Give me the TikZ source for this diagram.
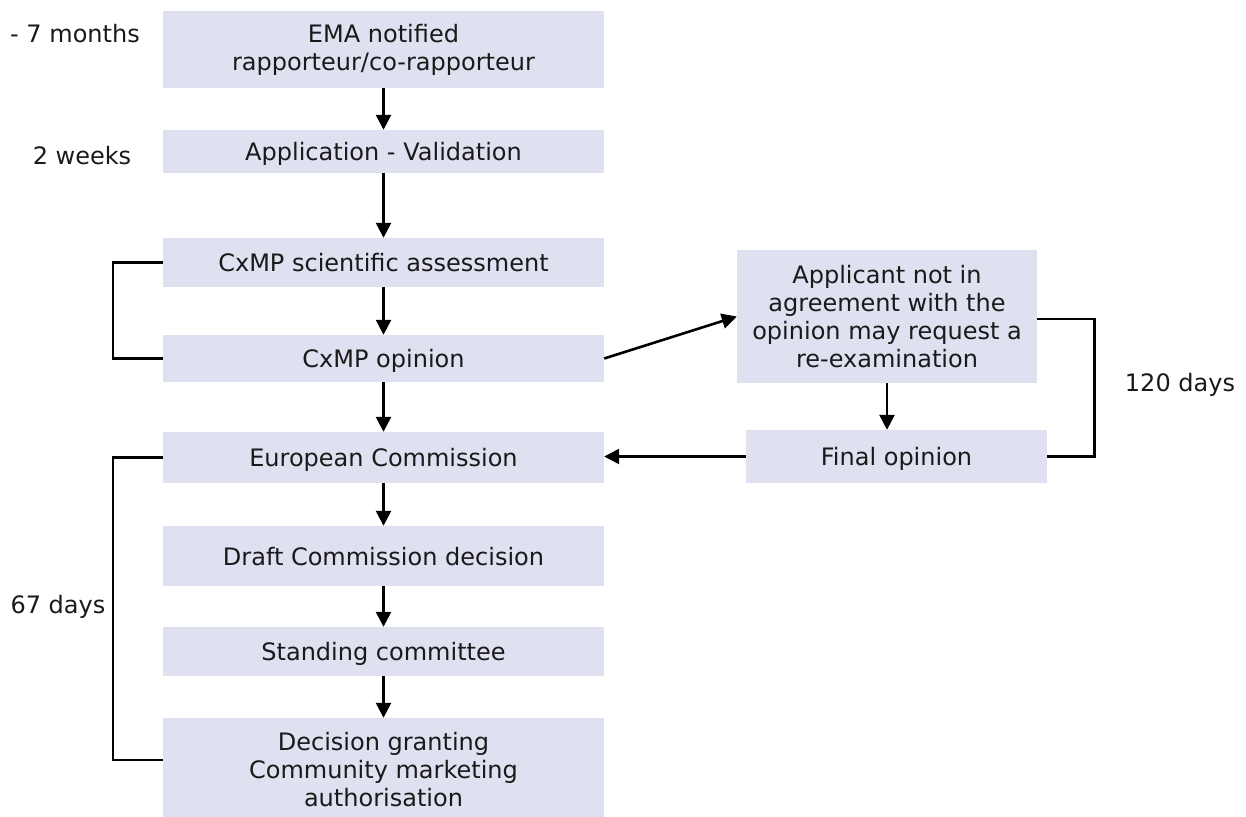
\documentclass[tikz,border=0pt]{standalone}
\usepackage{fontspec}
\setmainfont{DejaVu Sans}
\usetikzlibrary{arrows.meta}
\definecolor{boxc}{RGB}{223,224,240}
\definecolor{txt}{RGB}{26,26,26}
\tikzset{
  stagebox/.style={fill=boxc, draw=none, inner sep=0pt, align=center, text=txt,
    font=\fontsize{24}{28}\selectfont},
  mainbox/.style={stagebox, minimum width=441pt},
  oneline/.style={text depth=0pt},
  lbl/.style={inner sep=0pt, text=txt, font=\fontsize{24}{28}\selectfont},
  flow/.style={line width=2.6pt, -{Triangle[length=15pt,width=15pt]}},
  brack/.style={line width=2.6pt}
}
\begin{document}
\begin{tikzpicture}[x=1pt,y=-1pt]
\useasboundingbox[fill=white] (0,0) rectangle (1246,816);
\node[mainbox, minimum height=77pt] (b1) at (383.5,49.5) {EMA notified\\rapporteur/co-rapporteur};
\node[mainbox, oneline, minimum height=43pt] (b2) at (383.5,151.5) {Application - Validation};
\node[mainbox, oneline, minimum height=49pt] (b3) at (383.5,262.5) {CxMP scientific assessment};
\node[mainbox, oneline, minimum height=47pt] (b4) at (383.5,358.5) {CxMP opinion};
\node[mainbox, oneline, minimum height=51pt] (b5) at (383.5,457.5) {European Commission};
\node[mainbox, oneline, minimum height=60pt] (b6) at (383.5,556) {Draft Commission decision};
\node[mainbox, oneline, minimum height=49pt] (b7) at (383.5,651.5) {Standing committee};
\node[mainbox, minimum height=104pt] (b8) at (383.5,770) {Decision granting\\Community marketing\\authorisation};
\node[stagebox, minimum width=300pt, minimum height=133pt] (app) at (887,316.5) {Applicant not in\\agreement with the\\opinion may request a\\re-examination};
\node[stagebox, oneline, minimum width=301pt, minimum height=53pt] (fin) at (896.5,456.5) {Final opinion};

\node[lbl] (l1) at (75,34) {- 7 months};
\node[lbl] (l2) at (82,156) {2 weeks};
\node[lbl] (l3) at (58,607) {67 days};
\node[lbl] (l4) at (1180,385) {120 days};

\draw[flow] (b1.south) -- (b2.north);
\draw[flow] (b2.south) -- (b3.north);
\draw[flow] (b3.south) -- (b4.north);
\draw[flow] (b4.south) -- (b5.north);
\draw[flow] (b5.south) -- (b6.north);
\draw[flow] (b6.south) -- (b7.north);
\draw[flow] (b7.south) -- (b8.north);
\draw[flow] (b4.east) -- (app.west);
\draw[flow] (app.south) -- (app.south |- fin.north);
\draw[flow] (fin.west) -- (fin.west -| b5.east);

\draw[brack] (b3.west) -- ++(-50,0) |- (b4.west);
\draw[brack] (b5.west) -- ++(-50,0) |- ([yshift=10pt]b8.west);
\draw[brack] ([yshift=-2.5pt]app.east) -- ++(57,0) |- (fin.east);
\end{tikzpicture}
\end{document}
